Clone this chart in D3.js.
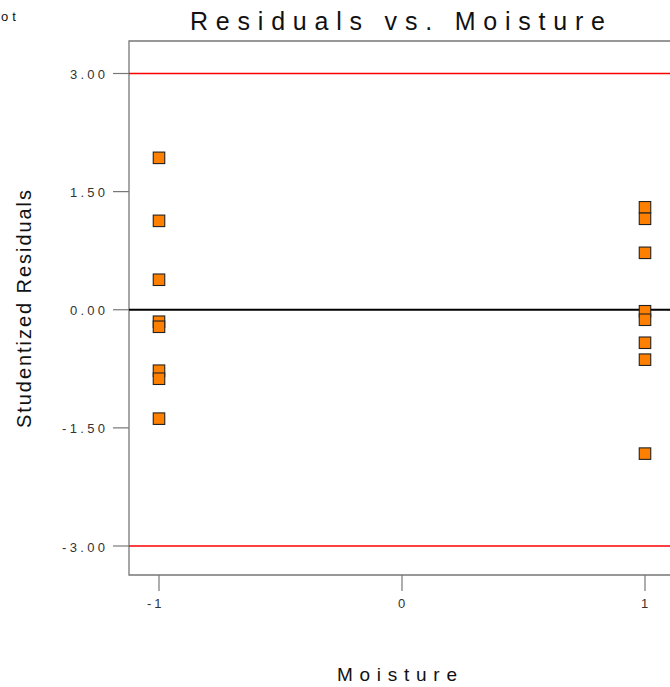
<!DOCTYPE html>
<html>
<head>
<meta charset="utf-8">
<script src="https://cdn.jsdelivr.net/npm/d3@7"></script>
<style>
  html, body { margin: 0; padding: 0; background: #fff; }
  svg { display: block; font-family: "Liberation Sans", Arial, sans-serif; }
</style>
</head>
<body>
<svg id="chart" width="670" height="687"></svg>
<script>
// Studentized residuals for each run, grouped by the coded Moisture level
const moistureLow  = [1.929, 1.129, 0.381, -0.152, -0.216, -0.774, -0.876, -1.383];
const moistureHigh = [1.301, 1.155, 0.723, -0.019, -0.127, -0.419, -0.634, -1.827];
const moistureLevels = [-1, 1];
const xTicks = [-1, 0, 1];
const yTicks = [3, 1.5, 0, -1.5, -3];
const limitLines = [3, -3];

const points = [
  ...moistureLow.map(v => ({ x: moistureLevels[0], y: v })),
  ...moistureHigh.map(v => ({ x: moistureLevels[1], y: v }))
];

// plain hyphen for negative numbers
const locale = d3.formatLocale({ decimal: ".", thousands: ",", grouping: [3], currency: ["", ""], minus: "-" });
const fmtY = locale.format(".2f");
const fmtX = locale.format("d");

const svg = d3.select("#chart");
const frame = { left: 129, top: 41, right: 675, bottom: 575 };

const x = d3.scaleLinear().domain([-1, 1]).range([159, 645]);
const y = d3.scaleLinear().domain([3, -3]).range([73.5, 546]);

// plot frame
svg.append("path")
  .attr("d", `M${frame.right},${frame.top}H${frame.left}V${frame.bottom}H${frame.right}`)
  .attr("fill", "none").attr("stroke", "#777").attr("stroke-width", 1.3);

// y ticks and labels
const yg = svg.append("g");
yg.selectAll("line").data(yTicks).join("line")
  .attr("x1", 113).attr("x2", frame.left)
  .attr("y1", d => y(d)).attr("y2", d => y(d))
  .attr("stroke", "#777").attr("stroke-width", 1.2);
yg.selectAll("text").data(yTicks).join("text")
  .attr("x", d => d < 0 ? 62 : 70)
  .attr("y", d => y(d) + 5.5)
  .attr("font-size", 13).attr("fill", "#333")
  .attr("textLength", d => d < 0 ? 43 : 35)
  .attr("lengthAdjust", "spacing")
  .text(d => fmtY(d));

// x ticks and labels
const xg = svg.append("g");
xg.selectAll("line").data(xTicks).join("line")
  .attr("x1", d => x(d)).attr("x2", d => x(d))
  .attr("y1", frame.bottom).attr("y2", 591)
  .attr("stroke", "#777").attr("stroke-width", 1.2);
xg.selectAll("text").data(xTicks).join("text")
  .attr("x", d => d < 0 ? x(d) - 12 : x(d) - 4)
  .attr("y", 608)
  .attr("font-size", 13).attr("fill", "#333")
  .attr("letter-spacing", d => d < 0 ? 3 : 0)
  .text(d => fmtX(d));

// +/- 3 limit lines and zero line
svg.append("g").selectAll("line").data(limitLines).join("line")
  .attr("x1", frame.left).attr("x2", 670)
  .attr("y1", d => y(d)).attr("y2", d => y(d))
  .attr("stroke", "#ff0000").attr("stroke-width", 1.6);
svg.append("line")
  .attr("x1", frame.left).attr("x2", 670)
  .attr("y1", y(0)).attr("y2", y(0))
  .attr("stroke", "#000").attr("stroke-width", 2);

// residual points
const s = 11.5;
svg.append("g").selectAll("rect").data(points).join("rect")
  .attr("x", d => x(d.x) - s / 2)
  .attr("y", d => y(d.y) - s / 2)
  .attr("width", s).attr("height", s)
  .attr("fill", "#ff8000")
  .attr("stroke", "#222").attr("stroke-width", 1.1);

// title
svg.append("text")
  .attr("x", 190).attr("y", 30)
  .attr("font-size", 25).attr("fill", "#111")
  .attr("textLength", 415).attr("lengthAdjust", "spacing")
  .text("Residuals vs. Moisture");

// axis titles
svg.append("text")
  .attr("transform", "translate(31,309) rotate(-90)")
  .attr("text-anchor", "middle")
  .attr("font-size", 20).attr("fill", "#111")
  .attr("textLength", 238).attr("lengthAdjust", "spacing")
  .text("Studentized Residuals");

svg.append("text")
  .attr("x", 337).attr("y", 681)
  .attr("font-size", 19).attr("fill", "#111")
  .attr("textLength", 120).attr("lengthAdjust", "spacing")
  .text("Moisture");

// corner caption
svg.append("text")
  .attr("x", 1).attr("y", 21)
  .attr("font-size", 13).attr("fill", "#111")
  .attr("letter-spacing", 4)
  .text("ot");
</script>
</body>
</html>
